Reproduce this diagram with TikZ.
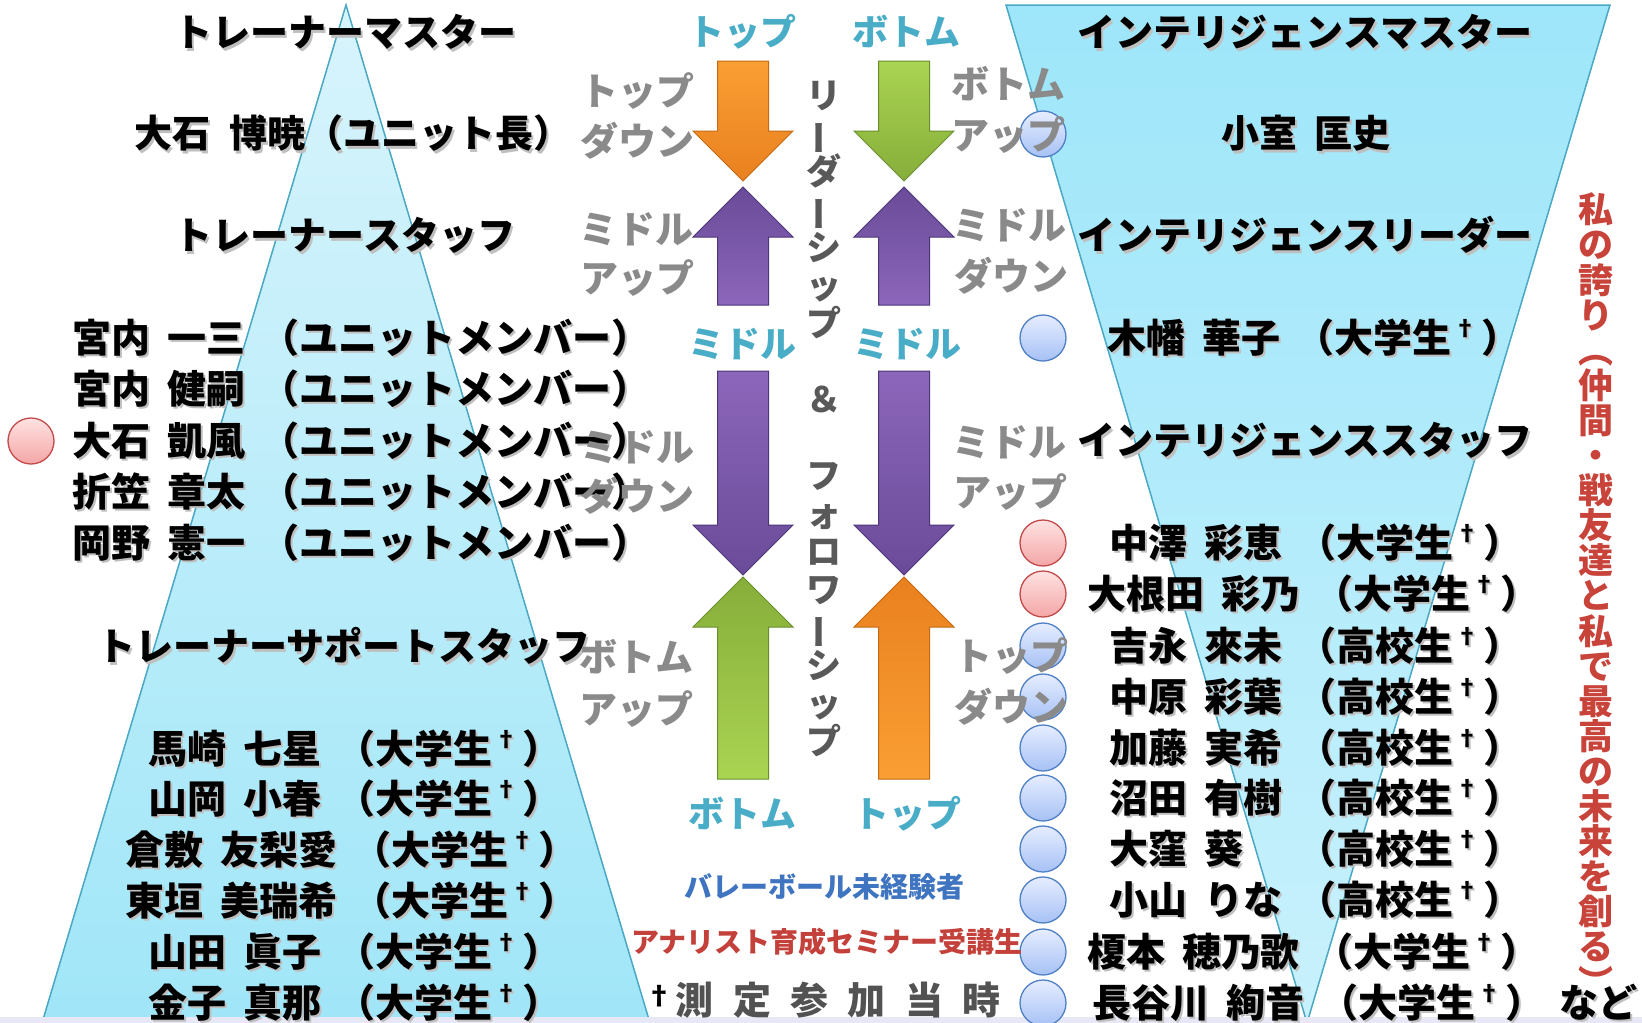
\documentclass[tikz,border=0pt]{standalone}
\usepackage{fontspec}
\usepackage{graphicx}
\setmainfont{Noto Sans CJK JP}
\definecolor{triE}{HTML}{4AA8C2}
\definecolor{triTop}{HTML}{D8F4FC}
\definecolor{triBot}{HTML}{A0E6F8}
\definecolor{rTop}{HTML}{9EE6FA}
\definecolor{rBot}{HTML}{C8F1FC}
\definecolor{bandc}{HTML}{E8E7F6}
\definecolor{cyc}{HTML}{4AADC7}
\definecolor{glc}{HTML}{8A8A8A}
\definecolor{vred}{HTML}{C8433A}
\definecolor{volblue}{HTML}{3F74C0}
\definecolor{semred}{HTML}{C4403A}
\definecolor{orL}{HTML}{FA9F33}
\definecolor{orD}{HTML}{E9801F}
\definecolor{orE}{HTML}{C46A14}
\definecolor{grL}{HTML}{AAD452}
\definecolor{grD}{HTML}{86AE3A}
\definecolor{grE}{HTML}{6A8E2C}
\definecolor{puL}{HTML}{8C66BA}
\definecolor{puD}{HTML}{6A4B99}
\definecolor{puE}{HTML}{4C3579}
\definecolor{dbL}{HTML}{E6EDFF}
\definecolor{dbD}{HTML}{A6C1F5}
\definecolor{dbE}{HTML}{4F7FC4}
\definecolor{drL}{HTML}{FFE2E2}
\definecolor{drD}{HTML}{F4A6A6}
\definecolor{drE}{HTML}{C24A4A}
\newcommand{\dg}{\makebox[30pt][l]{\hspace{3pt}\raisebox{0.40em}{\fontsize{22}{22}\selectfont †}}}
\newcommand{\jrow}[3]{#1\hspace{0.45em}#2\hspace{0.38em}（#3\dg）}
\newcommand{\shd}[1]{\makebox[0pt][l]{\hspace{2pt}\raisebox{-2.5pt}{\color{black!25}#1}}#1}
\newcommand{\vb}{\rotatebox[origin=c]{90}{ー}}
\newcommand{\blockarrow}[5]{%
  \path[#5] (#1-25.5,#2) -- (#1+25.5,#2) -- (#1+25.5,#3) -- (#1+50,#3) -- (#1,#4) -- (#1-50,#3) -- (#1-25.5,#3) -- cycle;}
\tikzset{
  tx/.style={inner sep=0pt, outer sep=0pt},
  hd/.style={tx, font=\bfseries\fontsize{38}{40}\selectfont, text height=32pt, text depth=4.6pt},
  nm/.style={tx, anchor=west, font=\bfseries\fontsize{39}{41}\selectfont, text height=32.8pt, text depth=4.7pt},
  gl/.style={tx, text=glc, font=\bfseries\fontsize{38}{40}\selectfont, text height=32pt, text depth=4.6pt},
  cyl/.style={tx, text=cyc, font=\bfseries\fontsize{36}{38}\selectfont, text height=30pt, text depth=4.3pt},
  dotb/.style={circle, minimum size=46pt, inner sep=0pt, line width=1.3pt, draw=dbE, top color=dbL, bottom color=dbD},
  dotr/.style={circle, minimum size=46pt, inner sep=0pt, line width=1.3pt, draw=drE, top color=drL, bottom color=drD},
  orDown/.style={top color=orL, bottom color=orD, draw=orE, line width=1pt},
  orUp/.style={top color=orD, bottom color=orL, draw=orE, line width=1pt},
  grDown/.style={top color=grL, bottom color=grD, draw=grE, line width=1pt},
  grUp/.style={top color=grD, bottom color=grL, draw=grE, line width=1pt},
  puDown/.style={top color=puL, bottom color=puD, draw=puE, line width=1pt},
  puUp/.style={top color=puD, bottom color=puL, draw=puE, line width=1pt},
}
\begin{document}
\begin{tikzpicture}[x=1pt,y=-1pt]
\useasboundingbox (0,0) rectangle (1642,1023);
\fill[white] (0,0) rectangle (1642,1023);
% pyramids
\path[draw=triE, line width=1.5pt, top color=triTop, bottom color=triBot] (346,5) -- (650,1023) -- (42,1023) -- cycle;
\path[draw=triE, line width=1.5pt, top color=rTop, bottom color=rBot] (1006,5) -- (1610,5) -- (1307,1023) -- cycle;
\fill[bandc] (0,1017) rectangle (1642,1023);
% circles
\node[dotr] (cL) at (31,441) {};
\node[dotb] (c0) at (1043,134) {};
\node[dotb] (c1) at (1043,338) {};
\node[dotr] (c2) at (1043,543) {};
\node[dotr] (c3) at (1043,594) {};
\node[dotb] (c4) at (1043,646) {};
\node[dotb] (c5) at (1043,697) {};
\node[dotb] (c6) at (1043,748) {};
\node[dotb] (c7) at (1043,798) {};
\node[dotb] (c8) at (1043,849) {};
\node[dotb] (c9) at (1043,900) {};
\node[dotb] (c10) at (1043,952) {};
\node[dotb] (c11) at (1043,1003) {};
% arrows
\blockarrow{743}{61}{131}{181}{orDown}
\blockarrow{743}{305}{237}{187}{puUp}
\blockarrow{743}{371}{525}{575}{puDown}
\blockarrow{743}{779}{627}{577}{grUp}
\blockarrow{904}{61}{131}{181}{grDown}
\blockarrow{904}{305}{237}{187}{puUp}
\blockarrow{904}{371}{525}{575}{puDown}
\blockarrow{904}{779}{627}{577}{orUp}
% left column
\node[hd] (tm) at (345,33) {\shd{トレーナーマスター}};
\node[hd] (oishi) at (353,134) {\shd{大石\hspace{0.5em}博暁（ユニット長）}};
\node[hd] (ts) at (345,236) {\shd{トレーナースタッフ}};
\node[nm] (m1) at (72,338) {\shd{宮内\hspace{0.45em}一三\hspace{0.38em}（ユニットメンバー）}};
\node[nm] (m2) at (72,389) {\shd{宮内\hspace{0.45em}健嗣\hspace{0.38em}（ユニットメンバー）}};
\node[nm] (m3) at (72,441) {\shd{大石\hspace{0.45em}凱風\hspace{0.38em}（ユニットメンバー）}};
\node[nm] (m4) at (72,492) {\shd{折笠\hspace{0.45em}章太\hspace{0.38em}（ユニットメンバー）}};
\node[nm] (m5) at (72,543) {\shd{岡野\hspace{0.45em}憲一\hspace{0.38em}（ユニットメンバー）}};
\node[hd] (tss) at (344,647) {\shd{トレーナーサポートスタッフ}};
\node[nm] (s1) at (148,749) {\shd{\jrow{馬崎}{七星}{大学生}}};
\node[nm] (s2) at (148,799) {\shd{\jrow{山岡}{小春}{大学生}}};
\node[nm] (s3) at (125,850) {\shd{\jrow{倉敷}{友梨愛}{大学生}}};
\node[nm] (s4) at (125,901) {\shd{\jrow{東垣}{美瑞希}{大学生}}};
\node[nm] (s5) at (148,952) {\shd{\jrow{山田}{眞子}{大学生}}};
\node[nm] (s6) at (148,1003) {\shd{\jrow{金子}{真那}{大学生}}};
% right column
\node[hd] (im) at (1305,33) {\shd{インテリジェンスマスター}};
\node[hd] (komuro) at (1306,134) {\shd{小室\hspace{0.45em}匡史}};
\node[hd] (il) at (1305,236) {\shd{インテリジェンスリーダー}};
\node[nm] (r1) at (1107,338) {\shd{\jrow{木幡}{華子}{大学生}}};
\node[hd] (is) at (1305,441) {\shd{インテリジェンススタッフ}};
\node[nm] (r2) at (1109,543) {\shd{\jrow{中澤}{彩恵}{大学生}}};
\node[nm] (r3) at (1087,594) {\shd{\jrow{大根田}{彩乃}{大学生}}};
\node[nm] (r4) at (1109,646) {\shd{\jrow{吉永}{來未}{高校生}}};
\node[nm] (r5) at (1109,697) {\shd{\jrow{中原}{彩葉}{高校生}}};
\node[nm] (r6) at (1109,748) {\shd{\jrow{加藤}{実希}{高校生}}};
\node[nm] (r7) at (1109,798) {\shd{\jrow{沼田}{有樹}{高校生}}};
\node[nm] (r8) at (1109,849) {\shd{\jrow{大窪}{\makebox[2em][l]{葵}}{高校生}}};
\node[nm] (r9) at (1109,900) {\shd{\jrow{小山}{\makebox[2em][l]{りな}}{高校生}}};
\node[nm] (r10) at (1087,952) {\shd{\jrow{榎本}{穂乃歌}{大学生}}};
\node[nm] (r11) at (1092,1003) {\shd{\jrow{長谷川}{絢音}{大学生}}};
\node[nm, anchor=center] (nado) at (1598,1003) {\shd{など}};
% cyan labels
\node[cyl] (cT1) at (742,33) {トップ};
\node[cyl] (cB1) at (906,33) {ボトム};
\node[cyl] (cM1) at (742,345) {ミドル};
\node[cyl] (cM2) at (907,345) {ミドル};
\node[cyl] (cB2) at (742,815) {ボトム};
\node[cyl] (cT2) at (907,815) {トップ};
% gray labels
\node[gl] (gl1a) at (637,92) {トップ};
\node[gl] (gl1b) at (637,142) {ダウン};
\node[gl] (gl2a) at (636,230) {ミドル};
\node[gl] (gl2b) at (637,279) {アップ};
\node[gl] (gl3a) at (637,448) {ミドル};
\node[gl] (gl3b) at (637,497) {ダウン};
\node[gl] (gl4a) at (636,658) {ボトム};
\node[gl] (gl4b) at (636,710) {アップ};
\node[gl] (gr1a) at (1008,85) {ボトム};
\node[gl] (gr1b) at (1008,136) {アップ};
\node[gl] (gr2a) at (1009,226) {ミドル};
\node[gl] (gr2b) at (1011,277) {ダウン};
\node[gl] (gr3a) at (1009,443) {ミドル};
\node[gl] (gr3b) at (1010,493) {アップ};
\node[gl] (gr4a) at (1011,657) {トップ};
\node[gl] (gr4b) at (1011,708) {ダウン};
% vertical texts
\node[tx, anchor=north, text=black!65, font=\bfseries\fontsize{35}{38}\selectfont] (lf) at (824,81)
  {\parbox{1.2em}{\centering\lineskiplimit=-100pt リ\\\vb\\ダ\\\vb\\シ\\ッ\\プ\\\mbox{}\\＆\\\mbox{}\\フ\\ォ\\ロ\\ワ\\\vb\\シ\\ッ\\プ}};
\node[tx, anchor=north, text=vred, font=\bfseries\fontsize{35}{35.1}\selectfont] (pride) at (1596,193)
  {\parbox{1.2em}{\centering\lineskiplimit=-100pt 私\\の\\誇\\り\\︵\\仲\\間\\・\\戦\\友\\達\\と\\私\\で\\最\\高\\の\\未\\来\\を\\創\\る\\︶}};
% bottom notes
\node[tx, text=volblue, font=\bfseries\fontsize{28}{30}\selectfont] (inexp) at (824,887) {バレーボール未経験者};
\node[tx, text=semred, font=\bfseries\fontsize{28}{30}\selectfont] (sem) at (827,942) {アナリスト育成セミナー受講生};
\node[tx, anchor=west, font=\bfseries\fontsize{38}{40}\selectfont, text height=32pt, text depth=4.6pt] (note) at (646,1001)
  {\makebox[20pt][l]{\raisebox{0.25em}{\fontsize{26}{26}\selectfont †}}\textcolor{black!68}{\makebox[57.4pt]{測}\makebox[57.4pt]{定}\makebox[57.4pt]{参}\makebox[57.4pt]{加}\makebox[57.4pt]{当}\makebox[57.4pt]{時}}};
\end{tikzpicture}
\end{document}
